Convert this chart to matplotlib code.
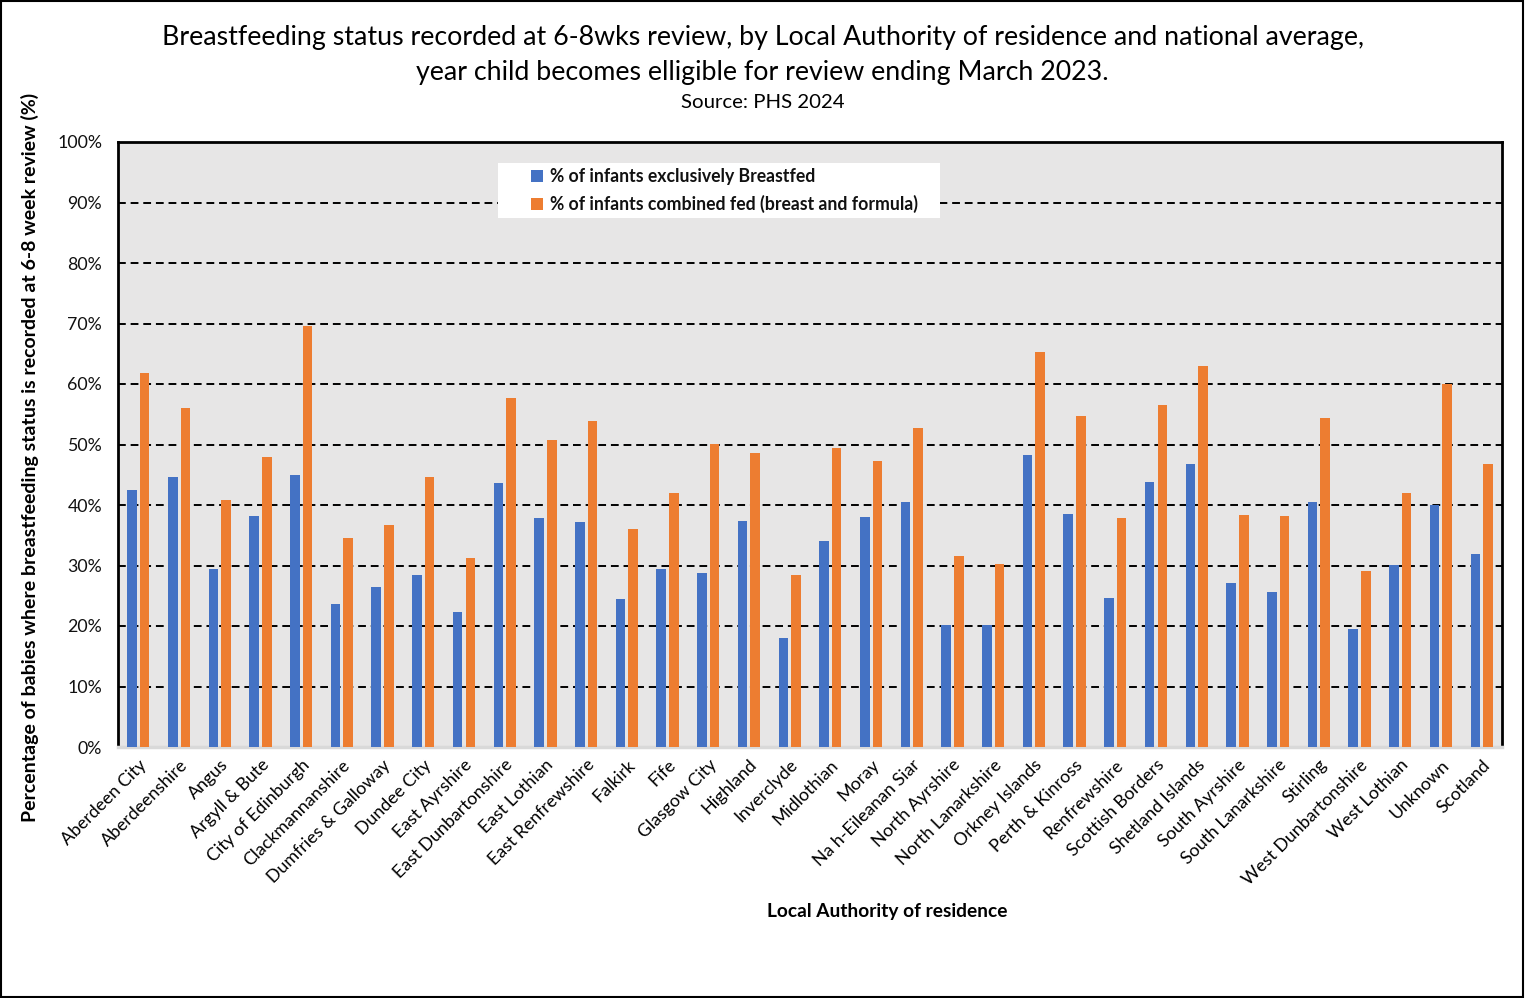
import matplotlib
matplotlib.use("Agg")
import matplotlib.pyplot as plt
import numpy as np
from matplotlib.patches import Patch, Rectangle
from matplotlib.ticker import FuncFormatter

plt.rcParams['font.family'] = ['Lato', 'DejaVu Sans']

categories = ["Aberdeen City", "Aberdeenshire", "Angus", "Argyll & Bute", "City of Edinburgh",
              "Clackmannanshire", "Dumfries & Galloway", "Dundee City", "East Ayrshire",
              "East Dunbartonshire", "East Lothian", "East Renfrewshire", "Falkirk", "Fife",
              "Glasgow City", "Highland", "Inverclyde", "Midlothian", "Moray", "Na h-Eileanan Siar",
              "North Ayrshire", "North Lanarkshire", "Orkney Islands", "Perth & Kinross",
              "Renfrewshire", "Scottish Borders", "Shetland Islands", "South Ayrshire",
              "South Lanarkshire", "Stirling", "West Dunbartonshire", "West Lothian", "Unknown",
              "Scotland"]

exclusive = [42.5, 44.6, 29.4, 38.2, 45.0, 23.6, 26.4, 28.4, 22.3, 43.6,
             37.9, 37.2, 24.5, 29.4, 28.8, 37.4, 18.0, 34.0, 38.0, 40.5,
             20.2, 20.2, 48.3, 38.5, 24.6, 43.8, 46.8, 27.1, 25.6, 40.5,
             19.5, 30.1, 40.0, 31.9]

combined = [61.8, 56.0, 40.8, 47.9, 69.6, 34.5, 36.7, 44.6, 31.2, 57.7,
            50.7, 53.9, 36.0, 42.0, 50.1, 48.6, 28.4, 49.4, 47.3, 52.7,
            31.6, 30.2, 65.3, 54.7, 37.9, 56.5, 63.0, 38.3, 38.2, 54.4,
            29.1, 42.0, 60.0, 46.8]

series_names = ["% of infants exclusively Breastfed",
                "% of infants combined fed (breast and formula)"]

BLUE = "#4472C4"
ORANGE = "#ED7D31"

W, H = 1525, 998
fig = plt.figure(figsize=(W / 100, H / 100), dpi=100)
fig.patch.set_facecolor("white")

ax = fig.add_axes([118 / W, 1 - 747 / H, (1502 - 118) / W, (747 - 142) / H])
ax.set_facecolor("#E7E6E6")

x = np.arange(len(categories))
bw = 0.235
off = 0.155
ax.bar(x - off, exclusive, width=bw, color=BLUE, zorder=3)
ax.bar(x + off, combined, width=bw, color=ORANGE, zorder=3)

ax.set_xlim(-0.5, len(categories) - 0.5)
ax.set_ylim(0, 100)
ax.set_yticks(np.arange(0, 101, 10))
ax.yaxis.set_major_formatter(FuncFormatter(lambda v, p: f"{int(v)}%"))
ax.grid(axis='y', color='black', linestyle=(0, (4, 2.5)), linewidth=1.4, zorder=1)
ax.tick_params(axis='y', length=0, labelsize=12.8, pad=11.5, colors='#111111')
ax.tick_params(axis='x', length=0, labelsize=12.8, pad=7)
ax.set_xticks(x)
ax.set_xticklabels(categories, rotation=45, ha='right', rotation_mode='anchor')

for s in ['left', 'top', 'right']:
    ax.spines[s].set_color('black')
    ax.spines[s].set_linewidth(2)
ax.spines['bottom'].set_color('#D9D9D9')
ax.spines['bottom'].set_linewidth(2.5)

# Legend box
ax.add_patch(Rectangle((498 / W, 1 - 218 / H), (940 - 498) / W, (218 - 163) / H,
                       transform=fig.transFigure, facecolor='white', edgecolor='none',
                       zorder=4, clip_on=False))
handles = [Patch(facecolor=BLUE), Patch(facecolor=ORANGE)]
leg = fig.legend(handles, series_names, loc='upper left',
                 bbox_to_anchor=(531 / W, 1 - 168 / H),
                 frameon=False,
                 prop={'weight': 'bold', 'size': 12.7},
                 handlelength=0.7, handleheight=0.7, handletextpad=0.35,
                 borderpad=0, labelspacing=0.58, borderaxespad=0)
leg.set_zorder(5)
for t in leg.get_texts():
    t.set_color('#111111')

# Titles
fig.text(0.5, 1 - 38 / H,
         "Breastfeeding status recorded at 6-8wks review, by Local Authority of residence and national average,",
         ha='center', va='center', fontsize=19.3)
fig.text(0.5, 1 - 72.5 / H,
         "year child becomes elligible for review ending March 2023.",
         ha='center', va='center', fontsize=19.3)
fig.text(0.5, 1 - 103 / H, "Source: PHS 2024", ha='center', va='center', fontsize=14.7)

fig.text(30 / W, 1 - 457 / H,
         "Percentage of babies where breastfeeding status is recorded at 6-8 week review (%)",
         rotation=90, ha='center', va='center', fontsize=14, fontweight='bold')
fig.text(887 / W, 1 - 911 / H, "Local Authority of residence",
         ha='center', va='center', fontsize=13.8, fontweight='bold')

# figure border
fig.patches.append(Rectangle((0.0005, 0.001), 0.998, 0.998, transform=fig.transFigure,
                             fill=False, edgecolor='black', linewidth=1.5))

fig.savefig("out.png", dpi=100)
